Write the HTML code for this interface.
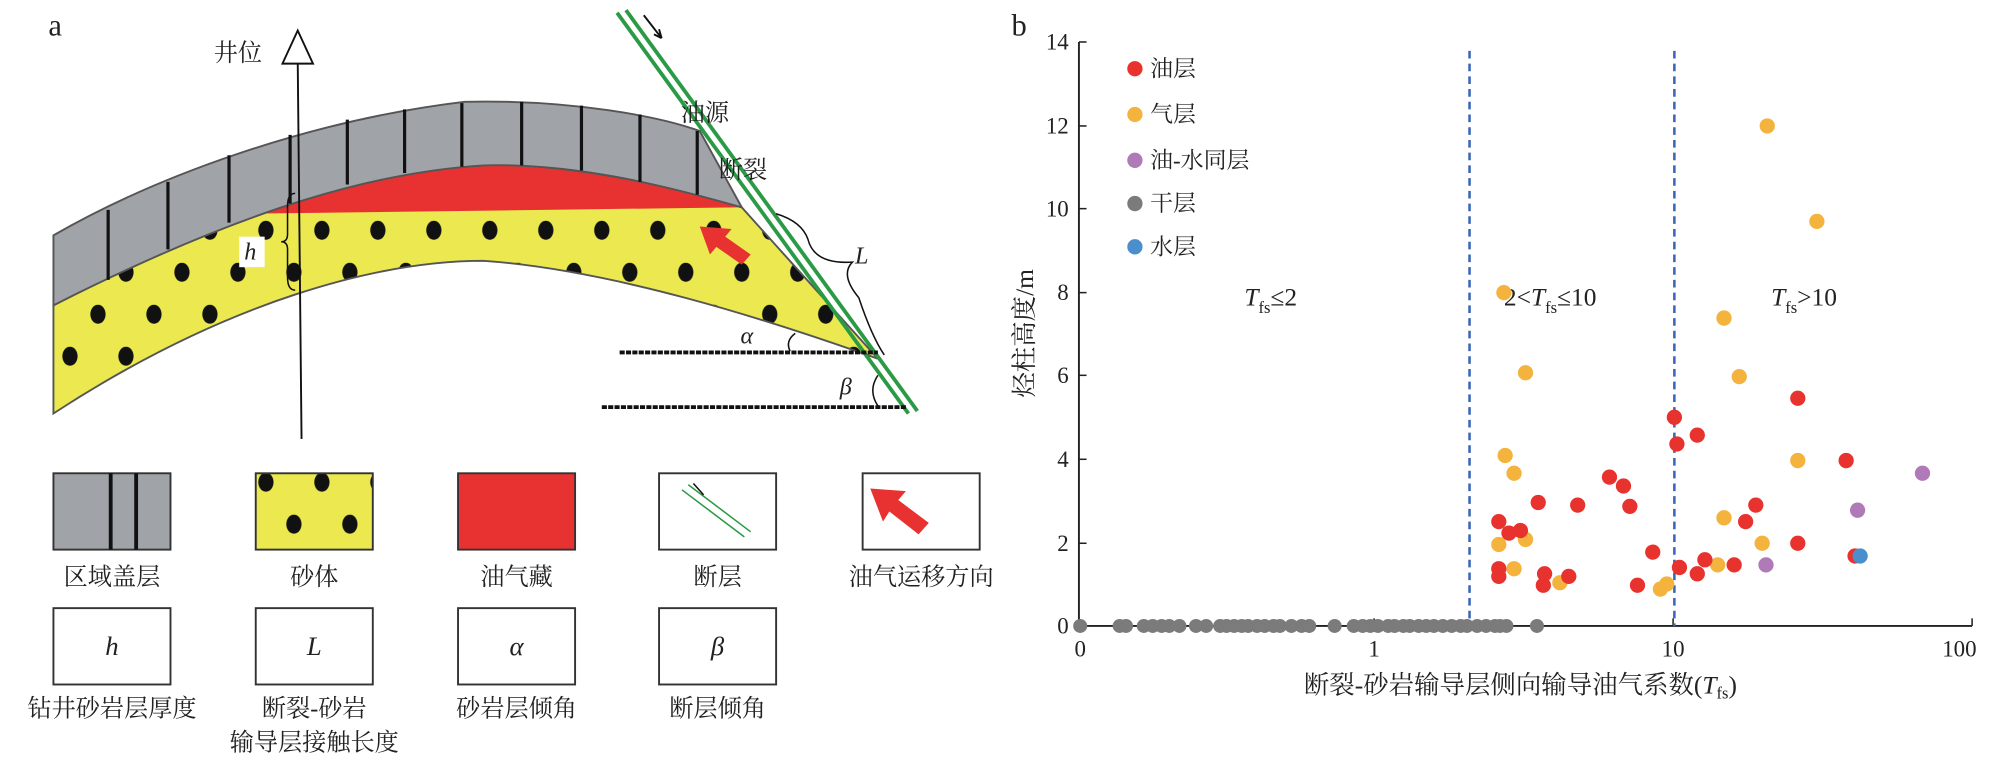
<!DOCTYPE html>
<html><head><meta charset="utf-8"><style>
html,body{margin:0;padding:0;background:#fff;}
svg{display:block;}
text{font-family:"Liberation Serif","Noto Serif CJK SC","Noto Sans CJK SC",serif;fill:#222;}
</style></head><body>
<svg width="1995" height="757" viewBox="0 0 1568 595" preserveAspectRatio="none" xmlns="http://www.w3.org/2000/svg">
<defs>
<pattern id="dots" x="0" y="0" width="44" height="66" patternUnits="userSpaceOnUse">
<rect width="44" height="66" fill="#ece950"/>
<ellipse cx="11" cy="16" rx="6" ry="7.5" fill="#111"/>
<ellipse cx="33" cy="49" rx="6" ry="7.5" fill="#111"/>
</pattern>
</defs>
<text x="38" y="28" font-size="24">a</text>
<path d="M42,240 C120,200 200,160 300,135 C380,122 450,128 583,163 L690,282 C600,250 480,212 380,205 C300,205 180,235 42,325 Z" fill="url(#dots)" stroke="#555" stroke-width="1.5"/>
<path d="M190,168 C260,142 330,130 380,130 C450,130 520,145 580,163 L190,168 Z" fill="#e83232"/>
<path d="M42,185 C120,140 240,95 365,80 C450,78 520,92 550,103 L583,163 C520,145 450,128 380,130 C300,135 200,160 42,240 Z" fill="#a0a3a8" stroke="#555" stroke-width="1.5"/>
<g stroke="#111" stroke-width="2.5">
<line x1="85" y1="165" x2="85" y2="220"/><line x1="132" y1="143" x2="132" y2="196"/>
<line x1="180" y1="122" x2="180" y2="175"/><line x1="228" y1="106" x2="228" y2="160"/>
<line x1="273" y1="94" x2="273" y2="145"/><line x1="318" y1="86" x2="318" y2="136"/>
<line x1="363" y1="81" x2="363" y2="131"/><line x1="410" y1="80" x2="410" y2="130"/>
<line x1="457" y1="83" x2="457" y2="134"/><line x1="503" y1="90" x2="503" y2="143"/>
<line x1="548" y1="103" x2="548" y2="153"/>
</g>
<line x1="234" y1="48" x2="237" y2="345" stroke="#111" stroke-width="1.5"/>
<polygon points="234,24 222,50 246,50" fill="#fff" stroke="#111" stroke-width="1.5"/>
<text x="168" y="48" font-size="19">井位</text>
<path d="M232,152 q-6,0 -6,10 v22 q0,6 -5,6 q5,0 5,6 v22 q0,10 6,10" fill="none" stroke="#111" stroke-width="1.2"/>
<rect x="188" y="186" width="20" height="24" fill="#fff"/>
<text x="192" y="204" font-size="19" font-style="italic">h</text>
<line x1="485" y1="10" x2="714" y2="325" stroke="#2a9a45" stroke-width="3"/>
<line x1="492" y1="8" x2="721" y2="323" stroke="#2a9a45" stroke-width="3"/>
<path d="M506,12 L520,30 M520,30 l-2,-7 M520,30 l-6,-3" stroke="#111" stroke-width="1.5" fill="none"/>
<text x="535" y="95" font-size="19">油源</text>
<text x="565" y="140" font-size="19">断裂</text>
<path d="M610,168 q20,6 25,20 q5,20 35,18 q-10,10 5,28 q10,30 20,45" fill="none" stroke="#111" stroke-width="1.2"/>
<text x="672" y="207" font-size="19" font-style="italic">L</text>
<line x1="487" y1="277" x2="690" y2="277" stroke="#111" stroke-width="3" stroke-dasharray="4,1"/>
<line x1="473" y1="320" x2="712" y2="320" stroke="#111" stroke-width="3" stroke-dasharray="4,1"/>
<text x="582" y="270" font-size="19" font-style="italic">α</text>
<path d="M625,262 q-8,6 -4,14" fill="none" stroke="#111" stroke-width="1.2"/>
<text x="660" y="310" font-size="19" font-style="italic">β</text>
<path d="M690,295 q-8,12 0,24" fill="none" stroke="#111" stroke-width="1.2"/>
<polygon points="550,178 575,180 570,186 590,200 583,208 563,194 558,200" fill="#e83232"/>
<rect x="42" y="372" width="92" height="60" fill="#a0a3a8" stroke="#333" stroke-width="1.5"/>
<line x1="87" y1="372" x2="87" y2="432" stroke="#111" stroke-width="3"/>
<line x1="107" y1="372" x2="107" y2="432" stroke="#111" stroke-width="3"/>
<rect x="201" y="372" width="92" height="60" fill="url(#dots)" stroke="#333" stroke-width="1.5"/>
<rect x="360" y="372" width="92" height="60" fill="#e83232" stroke="#333" stroke-width="1.5"/>
<rect x="518" y="372" width="92" height="60" fill="#fff" stroke="#333" stroke-width="1.5"/>
<line x1="536" y1="385" x2="585" y2="422" stroke="#2a9a45" stroke-width="1.2"/>
<line x1="541" y1="381" x2="590" y2="418" stroke="#2a9a45" stroke-width="1.2"/>
<path d="M545,380 l8,9" stroke="#111" stroke-width="1.2"/>
<rect x="678" y="372" width="92" height="60" fill="#fff" stroke="#333" stroke-width="1.5"/>
<polygon points="684,384 712,386 706,393 730,411 722,420 699,402 694,410" fill="#e83232"/>
<g font-size="19" text-anchor="middle">
<text x="88" y="460">区域盖层</text><text x="247" y="460">砂体</text><text x="406" y="460">油气藏</text><text x="564" y="460">断层</text><text x="724" y="460">油气运移方向</text>
</g>
<g fill="#fff" stroke="#333" stroke-width="1.5">
<rect x="42" y="478" width="92" height="60"/><rect x="201" y="478" width="92" height="60"/><rect x="360" y="478" width="92" height="60"/><rect x="518" y="478" width="92" height="60"/>
</g>
<g font-size="21" font-style="italic" text-anchor="middle">
<text x="88" y="515">h</text><text x="247" y="515">L</text><text x="406" y="515">α</text><text x="564" y="515">β</text>
</g>
<g font-size="19" text-anchor="middle">
<text x="88" y="563">钻井砂岩层厚度</text><text x="247" y="563">断裂-砂岩</text><text x="247" y="590">输导层接触长度</text><text x="406" y="563">砂岩层倾角</text><text x="564" y="563">断层倾角</text>
</g>

<text x="795" y="28" font-size="24">b</text>
<line x1="848" y1="33" x2="848" y2="492" stroke="#222" stroke-width="1.5"/>
<line x1="848" y1="492" x2="1550" y2="492" stroke="#222" stroke-width="1.5"/>
<g stroke="#222" stroke-width="1.2">
<line x1="848" y1="33" x2="854" y2="33"/><line x1="848" y1="99" x2="854" y2="99"/><line x1="848" y1="164" x2="854" y2="164"/>
<line x1="848" y1="230" x2="854" y2="230"/><line x1="848" y1="295" x2="854" y2="295"/><line x1="848" y1="361" x2="854" y2="361"/>
<line x1="848" y1="427" x2="854" y2="427"/>
<line x1="1080" y1="492" x2="1080" y2="486"/><line x1="1315" y1="492" x2="1315" y2="486"/><line x1="1550" y1="492" x2="1550" y2="486"/>
</g>
<g font-size="18" text-anchor="end">
<text x="840" y="39">14</text><text x="840" y="105">12</text><text x="840" y="170">10</text><text x="840" y="236">8</text>
<text x="840" y="301">6</text><text x="840" y="367">4</text><text x="840" y="433">2</text><text x="840" y="498">0</text>
</g>
<g font-size="18" text-anchor="middle">
<text x="849" y="516">0</text><text x="1080" y="516">1</text><text x="1315" y="516">10</text><text x="1540" y="516">100</text>
</g>
<text x="1195" y="545" font-size="20" text-anchor="middle">断裂-砂岩输导层侧向输导油气系数(<tspan font-style="italic">T</tspan><tspan font-size="13" dy="4">fs</tspan><tspan dy="-4">)</tspan></text>
<text transform="translate(812,262) rotate(-90)" font-size="20" text-anchor="middle">烃柱高度/m</text>
<line x1="1155" y1="40" x2="1155" y2="492" stroke="#3a66b8" stroke-width="2" stroke-dasharray="6,4"/>
<line x1="1316" y1="40" x2="1316" y2="492" stroke="#3a66b8" stroke-width="2" stroke-dasharray="6,4"/>
<g font-size="20">
<text x="978" y="240"><tspan font-style="italic">T</tspan><tspan font-size="13" dy="6">fs</tspan><tspan dy="-6">≤2</tspan></text>
<text x="1182" y="240">2&lt;<tspan font-style="italic">T</tspan><tspan font-size="13" dy="6">fs</tspan><tspan dy="-6">≤10</tspan></text>
<text x="1392" y="240"><tspan font-style="italic">T</tspan><tspan font-size="13" dy="6">fs</tspan><tspan dy="-6">&gt;10</tspan></text>
</g>
<g font-size="18">
<circle cx="892" cy="54" r="6" fill="#e8322e"/><text x="904" y="60">油层</text>
<circle cx="892" cy="90" r="6" fill="#f4b33d"/><text x="904" y="96">气层</text>
<circle cx="892" cy="126" r="6" fill="#b07ab8"/><text x="904" y="132">油-水同层</text>
<circle cx="892" cy="160" r="6" fill="#7b7b7b"/><text x="904" y="166">干层</text>
<circle cx="892" cy="194" r="6" fill="#4a8fcc"/><text x="904" y="200">水层</text>
</g>
<g fill="#7b7b7b">
<circle cx="849" cy="492" r="5.5"/><circle cx="880" cy="492" r="5.5"/><circle cx="885" cy="492" r="5.5"/><circle cx="899" cy="492" r="5.5"/><circle cx="906" cy="492" r="5.5"/><circle cx="913" cy="492" r="5.5"/><circle cx="919" cy="492" r="5.5"/><circle cx="927" cy="492" r="5.5"/><circle cx="940" cy="492" r="5.5"/><circle cx="948" cy="492" r="5.5"/><circle cx="959" cy="492" r="5.5"/><circle cx="964" cy="492" r="5.5"/><circle cx="970" cy="492" r="5.5"/><circle cx="976" cy="492" r="5.5"/><circle cx="981" cy="492" r="5.5"/><circle cx="988" cy="492" r="5.5"/><circle cx="994" cy="492" r="5.5"/><circle cx="1001" cy="492" r="5.5"/><circle cx="1006" cy="492" r="5.5"/><circle cx="1015" cy="492" r="5.5"/><circle cx="1023" cy="492" r="5.5"/><circle cx="1029" cy="492" r="5.5"/><circle cx="1049" cy="492" r="5.5"/><circle cx="1064" cy="492" r="5.5"/><circle cx="1071" cy="492" r="5.5"/><circle cx="1077" cy="492" r="5.5"/><circle cx="1083" cy="492" r="5.5"/><circle cx="1091" cy="492" r="5.5"/><circle cx="1096" cy="492" r="5.5"/><circle cx="1103" cy="492" r="5.5"/><circle cx="1108" cy="492" r="5.5"/><circle cx="1115" cy="492" r="5.5"/><circle cx="1121" cy="492" r="5.5"/><circle cx="1127" cy="492" r="5.5"/><circle cx="1134" cy="492" r="5.5"/><circle cx="1141" cy="492" r="5.5"/><circle cx="1148" cy="492" r="5.5"/><circle cx="1153" cy="492" r="5.5"/><circle cx="1161" cy="492" r="5.5"/><circle cx="1168" cy="492" r="5.5"/><circle cx="1175" cy="492" r="5.5"/><circle cx="1179" cy="492" r="5.5"/><circle cx="1184" cy="492" r="5.5"/><circle cx="1208" cy="492" r="5.5"/>
</g>
<g fill="#f4b33d">
<circle cx="1182" cy="230" r="6"/><circle cx="1199" cy="293" r="6"/><circle cx="1389" cy="99" r="6"/><circle cx="1428" cy="174" r="6"/><circle cx="1355" cy="250" r="6"/><circle cx="1367" cy="296" r="6"/><circle cx="1183" cy="358" r="6"/><circle cx="1190" cy="372" r="6"/><circle cx="1413" cy="362" r="6"/><circle cx="1178" cy="428" r="6"/><circle cx="1190" cy="447" r="6"/><circle cx="1226" cy="458" r="6"/><circle cx="1199" cy="424" r="6"/><circle cx="1385" cy="427" r="6"/><circle cx="1355" cy="407" r="6"/><circle cx="1350" cy="444" r="6"/><circle cx="1310" cy="459" r="6"/><circle cx="1305" cy="463" r="6"/>
</g>
<g fill="#e8322e">
<circle cx="1316" cy="328" r="6"/><circle cx="1318" cy="349" r="6"/><circle cx="1334" cy="342" r="6"/><circle cx="1413" cy="313" r="6"/><circle cx="1451" cy="362" r="6"/><circle cx="1178" cy="410" r="6"/><circle cx="1186" cy="419" r="6"/><circle cx="1195" cy="417" r="6"/><circle cx="1209" cy="395" r="6"/><circle cx="1240" cy="397" r="6"/><circle cx="1265" cy="375" r="6"/><circle cx="1276" cy="382" r="6"/><circle cx="1281" cy="398" r="6"/><circle cx="1299" cy="434" r="6"/><circle cx="1380" cy="397" r="6"/><circle cx="1372" cy="410" r="6"/><circle cx="1413" cy="427" r="6"/><circle cx="1178" cy="447" r="6"/><circle cx="1178" cy="453" r="6"/><circle cx="1214" cy="451" r="6"/><circle cx="1213" cy="460" r="6"/><circle cx="1233" cy="453" r="6"/><circle cx="1287" cy="460" r="6"/><circle cx="1320" cy="446" r="6"/><circle cx="1334" cy="451" r="6"/><circle cx="1340" cy="440" r="6"/><circle cx="1363" cy="444" r="6"/><circle cx="1458" cy="437" r="6"/>
</g>
<g fill="#b07ab8"><circle cx="1511" cy="372" r="6"/><circle cx="1460" cy="401" r="6"/><circle cx="1388" cy="444" r="6"/></g>
<circle cx="1462" cy="437" r="6" fill="#4a8fcc"/>
</svg>
</body></html>
